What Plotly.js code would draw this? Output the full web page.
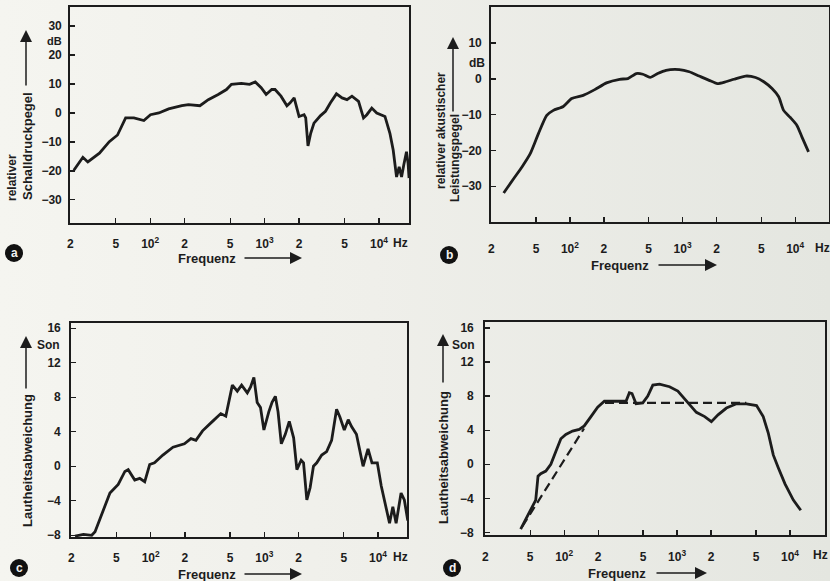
<!DOCTYPE html>
<html>
<head>
<meta charset="utf-8">
<script src="https://cdn.plot.ly/plotly-3.0.1.min.js"></script>
<style>
html,body{margin:0;padding:0;}
body{width:830px;height:581px;overflow:hidden;background:linear-gradient(to right,#f5f5f0 0%,#efefea 45%,#e4e6e0 100%);}
#chart{width:830px;height:581px;}
</style>
</head>
<body>
<div id="chart"></div>
<script>
// ---------- data ----------
// Panel a: relativer Schalldruckpegel (dB) vs Frequenz (Hz)
const aFreq = [21.5, 25.8, 28.5, 36, 43.9, 51.8, 61, 72, 88, 100.6, 119, 145, 189, 216, 272, 322, 393, 464, 513, 626, 739, 828, 933, 1031, 1154, 1233, 1390, 1567, 1672, 1812, 2000, 2212, 2287, 2394, 2528, 2700, 3083, 3405, 3764, 4244, 4753, 5250, 5800, 6622, 7315, 7823, 8643, 9550, 11270, 12450, 13300, 14230, 15000, 15740, 16450, 17380, 17950, 18300];
const aLevel = [-19.8, -15.3, -16.9, -13.9, -9.9, -7.6, -1.7, -1.7, -2.6, -0.6, 0, 1.4, 2.5, 2.9, 2.5, 4.6, 6.4, 8.1, 9.9, 10.2, 9.9, 10.7, 8.7, 6.4, 8.1, 8.1, 5.8, 2.5, 3.5, 5.2, -1.2, -0.6, -1.7, -11.4, -7.0, -3.5, -0.9, 0.6, 3.5, 6.6, 5.2, 4.6, 5.8, 4.0, -1.7, -0.6, 1.7, 0, -1.2, -7.0, -12.8, -22.1, -18.6, -22.1, -18.0, -13.4, -17.4, -22.5];

// Panel b: relativer akustischer Leistungspegel (dB)
const bFreq = [25.8, 31.6, 37.5, 44.4, 52.5, 62.2, 71.2, 87.3, 103.5, 131, 166, 211, 276, 327, 388, 444, 515, 601, 713, 935, 1146, 1403, 1721, 2037, 2415, 2859, 3629, 4446, 5262, 6227, 7132, 7892, 9054, 10360, 11460, 13130];
const bLevel = [-31.9, -27.9, -24.6, -20.9, -15.3, -10.2, -8.8, -7.7, -5.5, -4.6, -3.0, -1.1, -0.1, 0.1, 1.5, 1.3, 0.4, 1.5, 2.4, 2.6, 2.0, 0.8, -0.4, -1.3, -0.8, -0.1, 0.8, 0.4, -0.8, -2.7, -5.0, -8.8, -10.8, -13.0, -16.2, -20.4];

// Panel c: Lautheitsabweichung (Son)
const cFreq = [21.6, 25.6, 30.3, 32.4, 38.3, 43.8, 51.8, 59.3, 63.4, 72.4, 80.1, 88.6, 98, 108, 128, 157, 198, 226, 250, 286, 350, 414, 458, 523, 578, 631, 708, 757, 809, 865, 925, 991, 1094, 1169, 1250, 1320, 1410, 1528, 1657, 1810, 1933, 2108, 2212, 2364, 2527, 2704, 2891, 3197, 3533, 3906, 4320, 4620, 5050, 5470, 5850, 6460, 7390, 8170, 8850, 9860, 10680, 11810, 12630, 13500, 14430, 15950, 17050, 18270];
const cLevel = [-8.1, -7.9, -8.0, -7.6, -5.1, -3.1, -2.1, -0.6, -0.4, -1.6, -1.4, -1.8, 0.2, 0.4, 1.3, 2.2, 2.6, 3.2, 3.0, 4.1, 5.2, 6.1, 5.8, 9.4, 8.7, 9.4, 8.5, 9.2, 10.3, 7.4, 6.8, 4.2, 6.3, 7.4, 8.1, 6.3, 2.6, 3.7, 5.2, 3.3, -0.4, 0.7, 0.4, -3.9, -2.5, 0, 0.4, 1.3, 1.7, 3.0, 6.6, 5.7, 4.2, 5.4, 4.6, 3.7, 0, 2.0, 0.4, 0.4, -2.3, -4.7, -6.6, -4.7, -6.6, -3.1, -3.9, -6.3];

// Panel d: Lautheitsabweichung (Son), measured curve + dashed target
const dFreq = [41.2, 48.9, 56, 58.7, 62, 68.8, 76.2, 84.4, 93.5, 103.5, 118.6, 136, 150.6, 172.7, 198, 227, 269, 353, 378, 399, 433, 497, 550, 610, 699, 858, 1016, 1207, 1482, 1756, 2013, 2305, 2736, 3356, 4118, 5055, 5792, 6415, 7110, 7875, 9030, 10710, 12460];
const dLevel = [-7.6, -5.8, -4.2, -1.4, -1.1, -0.8, 0, 1.5, 3.0, 3.5, 3.9, 4.1, 4.5, 5.6, 6.7, 7.4, 7.4, 7.4, 8.4, 8.3, 7.1, 7.2, 8.0, 9.3, 9.4, 9.1, 8.6, 7.4, 6.1, 5.6, 5.0, 5.8, 6.6, 7.1, 7.1, 6.9, 5.6, 3.7, 1.1, -0.4, -2.3, -4.2, -5.4];
const dSlopeFreq = [42.6, 150];
const dSlopeLevel = [-7.3, 4.2];
const dFlatFreq = [230, 4100];
const dFlatLevel = [7.2, 7.2];

// Ticks
const freqTickVals = [20, 50, 100, 200, 500, 1000, 2000, 5000, 10000];
const freqTickText = ['2', '5', '10<sup>2</sup>', '2', '5', '10<sup>3</sup>', '2', '5', '10<sup>4</sup>'];
const dbTicksA = [-30, -20, -10, 0, 10, 20, 30];
const dbTicksB = [-30, -20, -10, 0, 10];
const sonTicks = [-8, -4, 0, 4, 8, 12, 16];

// ---------- helpers ----------
const W = 830, H = 581;
const P = x => x / W;
const Q = y => 1 - y / H;
const INK = '#1c1c1c';
const FONT = 'Liberation Sans, Arial, sans-serif';

function xAxis(l, r, range, standoff) {
  return {
    domain: [P(l), P(r)], type: 'log', range: range,
    tickvals: freqTickVals, ticktext: freqTickText,
    ticks: 'inside', ticklen: 5, tickwidth: 1.3, tickcolor: INK,
    showline: true, mirror: true, linecolor: INK, linewidth: 1.8,
    showgrid: false, zeroline: false, ticklabelstandoff: standoff,
    tickfont: {family: FONT, size: 12, color: INK, weight: 'bold'}
  };
}
function yAxis(t, b, range, vals, standoff) {
  return {
    domain: [Q(b), Q(t)], range: range, tickvals: vals,
    ticks: 'inside', ticklen: 5, tickwidth: 1.3, tickcolor: INK,
    showline: true, mirror: true, linecolor: INK, linewidth: 1.8,
    showgrid: false, zeroline: false, ticklabelstandoff: standoff,
    tickfont: {family: FONT, size: 12, color: INK, weight: 'bold'}
  };
}
const line = {color: INK, width: 2.8};

const traces = [
  {x: aFreq, y: aLevel, xaxis: 'x', yaxis: 'y', mode: 'lines', line: line},
  {x: bFreq, y: bLevel, xaxis: 'x2', yaxis: 'y2', mode: 'lines', line: Object.assign({shape: 'spline', smoothing: 0.6}, line)},
  {x: cFreq, y: cLevel, xaxis: 'x3', yaxis: 'y3', mode: 'lines', line: line},
  {x: dFreq, y: dLevel, xaxis: 'x4', yaxis: 'y4', mode: 'lines', line: line},
  {x: dSlopeFreq, y: dSlopeLevel, xaxis: 'x4', yaxis: 'y4', mode: 'lines', line: {color: INK, width: 2.2, dash: '9px,5px'}},
  {x: dFlatFreq, y: dFlatLevel, xaxis: 'x4', yaxis: 'y4', mode: 'lines', line: {color: INK, width: 2.2, dash: '9px,5px'}}
];

function txt(x, y, text, opts) {
  return Object.assign({xref: 'paper', yref: 'paper', x: P(x), y: Q(y), text: text, showarrow: false,
    xanchor: 'center', yanchor: 'middle',
    font: {family: FONT, size: 12, color: INK, weight: 'bold'}}, opts || {});
}
function arrow(x, y, ax, ay) {
  return {xref: 'paper', yref: 'paper', x: P(x), y: Q(y), ax: ax, ay: ay, text: '',
    showarrow: true, arrowhead: 2, arrowsize: 1.6, arrowwidth: 1.5, arrowcolor: INK};
}
function vtitle(x, y, text, size) {
  return txt(x, y, text, {textangle: -90, font: {family: FONT, size: size, color: INK, weight: 'bold'}});
}
const bigF = {family: FONT, size: 13, color: INK, weight: 'bold'};
const white = {family: FONT, size: 12, color: '#f2f2f2', weight: 'bold'};
const small = {family: FONT, size: 11, color: INK, weight: 'bold'};

const annotations = [
  // panel a
  txt(54, 41, 'dB', {font: small}), txt(400, 243, 'Hz'),
  txt(207, 258, 'Frequenz', {font: bigF}),
  arrow(302, 258, -59, 0),
  vtitle(12, 178, 'relativer', 12), vtitle(28, 146, 'Schalldruckpegel', 13),
  arrow(26, 30, 0, 57),
  // panel b
  txt(477, 63, 'dB'), txt(822, 248, 'Hz'),
  txt(620, 265, 'Frequenz', {font: bigF}),
  arrow(717, 265, -60, 0),
  vtitle(441, 131, 'relativer akustischer', 12), vtitle(455, 158, 'Leistungspegel', 12),
  arrow(453, 37, 0, 76),
  // panel c
  txt(48, 345, 'Son'), txt(400, 557, 'Hz'),
  txt(207, 574, 'Frequenz', {font: bigF}),
  arrow(302, 574, -59, 0),
  vtitle(27, 461, 'Lautheitsabweichung', 13),
  arrow(26, 336, 0, 54),
  // panel d
  txt(463, 345, 'Son'), txt(820, 555, 'Hz'),
  txt(617, 573, 'Frequenz', {font: bigF}),
  arrow(707, 573, -52, 0),
  vtitle(443, 458, 'Lautheitsabweichung', 13),
  arrow(443, 334, 0, 50),
  // panel letters
  txt(14, 253, 'a', {font: white}),
  txt(449, 255, 'b', {font: white}),
  txt(19, 568, 'c', {font: white}),
  txt(452, 568, 'd', {font: white})
];

function circ(cx, cy, r) {
  return {type: 'circle', xref: 'paper', yref: 'paper', x0: P(cx - r), x1: P(cx + r), y0: Q(cy + r), y1: Q(cy - r),
    fillcolor: '#111', line: {width: 0}, layer: 'below'};
}

const layout = {
  width: W, height: H, margin: {l: 0, r: 0, t: 0, b: 0}, showlegend: false,
  paper_bgcolor: 'rgba(0,0,0,0)', plot_bgcolor: 'rgba(0,0,0,0)',
  font: {family: FONT, color: INK},
  xaxis: Object.assign(xAxis(70, 409, [1.299, 4.262], 9), {anchor: 'y'}),
  yaxis: Object.assign(yAxis(7, 223, [-38, 36.6], dbTicksA, 4), {anchor: 'x'}),
  xaxis2: Object.assign(xAxis(491, 829, [1.299, 4.30], 15), {anchor: 'y2'}),
  yaxis2: Object.assign(yAxis(7, 222, [-40, 20.1], dbTicksB, 5), {anchor: 'x2'}),
  xaxis3: Object.assign(xAxis(71, 407, [1.299, 4.255], 9), {anchor: 'y3'}),
  yaxis3: Object.assign(yAxis(323, 537, [-8.2, 16.6], sonTicks, 6), {anchor: 'x3'}),
  xaxis4: Object.assign(xAxis(485, 825, [1.299, 4.31], 10), {anchor: 'y4'}),
  yaxis4: Object.assign(yAxis(322, 535, [-8.3, 16.7], sonTicks, 7), {anchor: 'x4'}),
  annotations: annotations,
  shapes: [circ(14, 253, 9), circ(449, 255, 9), circ(19, 568, 9), circ(452, 568, 9)]
};

Plotly.newPlot('chart', traces, layout, {staticPlot: true, displayModeBar: false});
</script>
</body>
</html>
